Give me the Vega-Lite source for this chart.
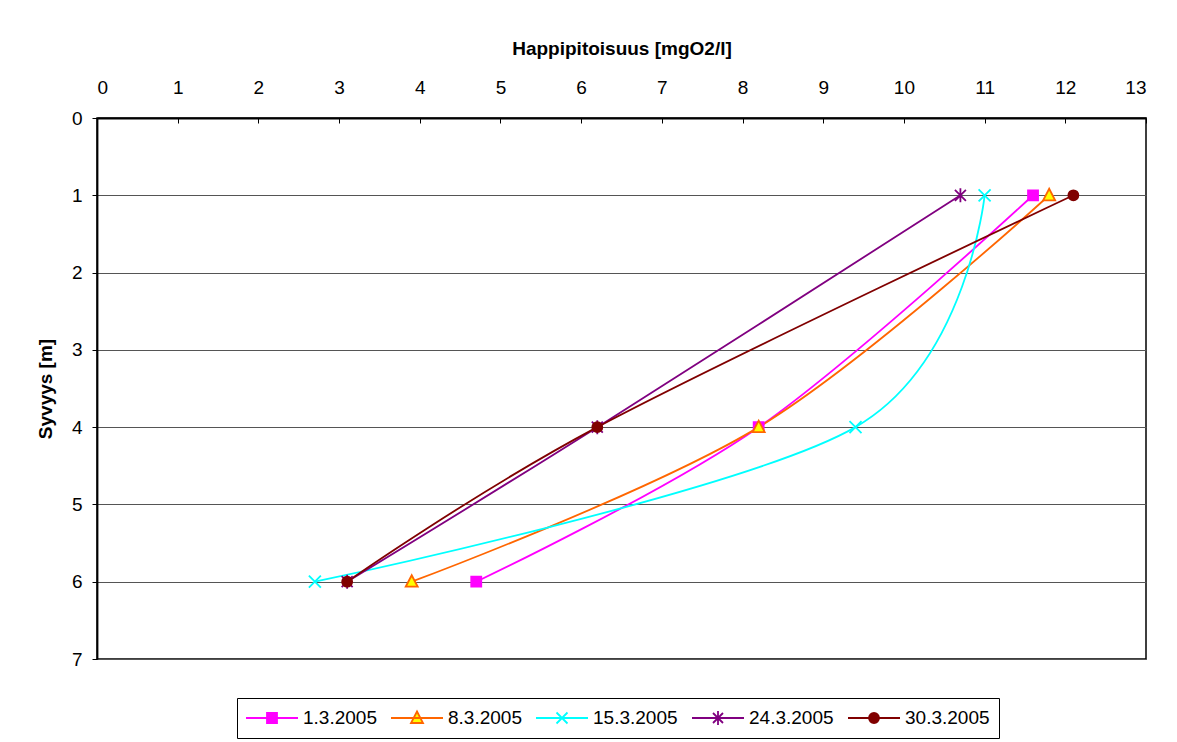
{
  "$schema": "https://vega.github.io/schema/vega-lite/v6.json",
  "width": 1049,
  "height": 541,
  "autosize": {"type": "none"},
  "padding": {"left": 97, "top": 118, "right": 31, "bottom": 83},
  "background": "white",
  "config": {
    "font": "Liberation Sans",
    "view": {"stroke": "black", "strokeWidth": 1.5},
    "axis": {"labelFont": "Liberation Sans", "titleFont": "Liberation Sans", "labelColor": "black", "titleColor": "black", "domainColor": "black", "tickColor": "black"}
  },
  "data": {
    "values": [
      {"date": "1.3.2005", "depth": 1, "o2": 11.6},
      {"date": "1.3.2005", "depth": 4, "o2": 8.2},
      {"date": "1.3.2005", "depth": 6, "o2": 4.7},
      {"date": "8.3.2005", "depth": 1, "o2": 11.8},
      {"date": "8.3.2005", "depth": 4, "o2": 8.2},
      {"date": "8.3.2005", "depth": 6, "o2": 3.9},
      {"date": "15.3.2005", "depth": 1, "o2": 11.0},
      {"date": "15.3.2005", "depth": 4, "o2": 9.4},
      {"date": "15.3.2005", "depth": 6, "o2": 2.7},
      {"date": "24.3.2005", "depth": 1, "o2": 10.7},
      {"date": "24.3.2005", "depth": 4, "o2": 6.2},
      {"date": "24.3.2005", "depth": 6, "o2": 3.1},
      {"date": "30.3.2005", "depth": 1, "o2": 12.1},
      {"date": "30.3.2005", "depth": 4, "o2": 6.2},
      {"date": "30.3.2005", "depth": 6, "o2": 3.1}
    ]
  },
  "encoding": {
    "x": {
      "field": "o2", "type": "quantitative",
      "scale": {"domain": [0, 13], "nice": false, "zero": true},
      "axis": {
        "orient": "top", "title": "Happipitoisuus [mgO2/l]", "values": [0,1,2,3,4,5,6,7,8,9,10,11,12,13],
        "grid": false, "tickSize": -5, "labelPadding": 26, "labelFontSize": 19, "titleFontSize": 19, "titleFontWeight": "bold", "titlePadding": 20, "domainWidth": 1.8
      }
    },
    "y": {
      "field": "depth", "type": "quantitative",
      "scale": {"domain": [0, 7], "reverse": true, "nice": false},
      "axis": {
        "title": "Syvyys [m]", "values": [0,1,2,3,4,5,6,7], "grid": true, "gridColor": "#555", "gridWidth": 1,
        "tickSize": 5, "labelPadding": 10, "labelFontSize": 19, "titleFontSize": 19, "titleFontWeight": "bold", "titlePadding": 16, "domainWidth": 1.8
      }
    }
  },
  "resolve": {"scale": {"shape": "independent", "fill": "independent", "stroke": "independent"}},
  "layer": [
    {
      "mark": {"type": "line", "interpolate": "cardinal", "strokeWidth": 1.8},
      "encoding": {
        "order": {"field": "depth", "type": "quantitative"},
        "color": {
          "field": "date", "type": "nominal", "legend": null,
          "scale": {"domain": ["1.3.2005", "8.3.2005", "15.3.2005", "24.3.2005", "30.3.2005"], "range": ["#FF00FF", "#FF6600", "#00FFFF", "#800080", "#800000"]}
        }
      }
    },
    {
      "mark": {"type": "point", "size": 100, "strokeWidth": 1.8, "opacity": 1, "fillOpacity": 1},
      "encoding": {
        "stroke": {
          "field": "date", "type": "nominal", "legend": null,
          "scale": {"domain": ["1.3.2005", "8.3.2005", "15.3.2005", "24.3.2005", "30.3.2005"], "range": ["#FF00FF", "#FF6600", "#00FFFF", "#800080", "#800000"]}
        },
        "fill": {
          "field": "date", "type": "nominal", "legend": null,
          "scale": {"domain": ["1.3.2005", "8.3.2005", "15.3.2005", "24.3.2005", "30.3.2005"], "range": ["#FF00FF", "#FFFF00", "transparent", "transparent", "#800000"]}
        },
        "shape": {
          "field": "date", "type": "nominal", "legend": null,
          "scale": {"domain": ["1.3.2005", "8.3.2005", "15.3.2005", "24.3.2005", "30.3.2005"], "range": ["square", "M0,-1.3L1.2,1L-1.2,1Z", "M-1.2,-1.2L1.2,1.2M1.2,-1.2L-1.2,1.2", "M-1.1,-1.1L1.1,1.1M1.1,-1.1L-1.1,1.1M0,-1.4L0,1.4", "circle"]}
        }
      }
    },
    {
      "transform": [{"filter": "false"}],
      "mark": {"type": "point", "strokeWidth": 1.8, "opacity": 1, "fillOpacity": 1},
      "encoding": {
        "stroke": {
          "field": "date", "type": "nominal",
          "scale": {"domain": ["1.3.2005", "8.3.2005", "15.3.2005", "24.3.2005", "30.3.2005"], "range": ["#FF00FF", "#FF6600", "#00FFFF", "#800080", "#800000"]},
          "legend": {
            "orient": "none", "legendX": 140, "legendY": 580, "direction": "horizontal", "title": null,
            "strokeColor": "black", "padding": 9, "labelFontSize": 19, "labelColor": "black", "labelFont": "Liberation Sans",
            "symbolSize": 400, "symbolStrokeWidth": 1.8, "symbolOffset": 15, "labelOffset": 20, "columnPadding": 10, "gridAlign": "none"
          }
        },
        "fill": {
          "field": "date", "type": "nominal",
          "scale": {"domain": ["1.3.2005", "8.3.2005", "15.3.2005", "24.3.2005", "30.3.2005"], "range": ["#FF00FF", "#FFFF00", "transparent", "transparent", "#800000"]},
          "legend": {
            "orient": "none", "legendX": 140, "legendY": 580, "direction": "horizontal", "title": null,
            "strokeColor": "black", "padding": 9, "labelFontSize": 19, "labelColor": "black", "labelFont": "Liberation Sans",
            "symbolSize": 400, "symbolStrokeWidth": 1.8, "symbolOffset": 15, "labelOffset": 20, "columnPadding": 10, "gridAlign": "none"
          }
        },
        "shape": {
          "field": "date", "type": "nominal",
          "scale": {"domain": ["1.3.2005", "8.3.2005", "15.3.2005", "24.3.2005", "30.3.2005"], "range": [
            "M-2.6,0L2.6,0M-0.5,-0.5L0.5,-0.5L0.5,0.5L-0.5,0.5Z",
            "M-2.6,0L2.6,0M0,-0.65L0.6,0.5L-0.6,0.5Z",
            "M-2.6,0L2.6,0M-0.55,-0.55L0.55,0.55M0.55,-0.55L-0.55,0.55",
            "M-2.6,0L2.6,0M-0.5,-0.5L0.5,0.5M0.5,-0.5L-0.5,0.5M0,-0.7L0,0.7",
            "M-2.6,0L2.6,0M-0.5,0A0.5,0.5 0 1,0 0.5,0A0.5,0.5 0 1,0 -0.5,0Z"
          ]},
          "legend": {
            "orient": "none", "legendX": 140, "legendY": 580, "direction": "horizontal", "title": null,
            "strokeColor": "black", "padding": 9, "labelFontSize": 19, "labelColor": "black", "labelFont": "Liberation Sans",
            "symbolSize": 400, "symbolStrokeWidth": 1.8, "symbolOffset": 15, "labelOffset": 20, "columnPadding": 10, "gridAlign": "none"
          }
        }
      }
    }
  ]
}
